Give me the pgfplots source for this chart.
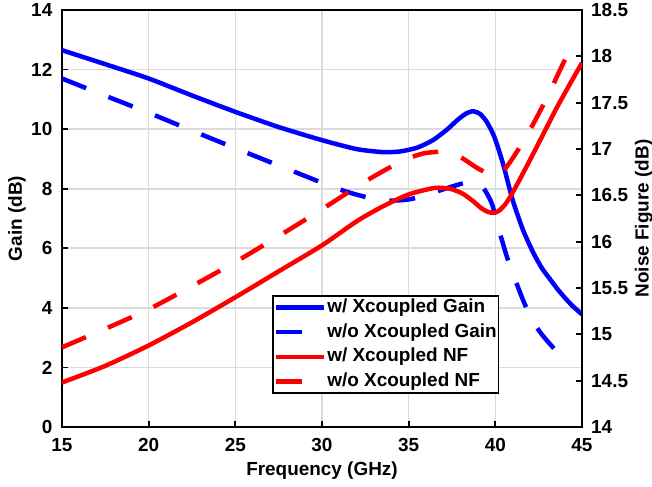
\documentclass[border=0pt]{standalone}
\usepackage{fontspec}
\setmainfont{Liberation Sans}
\usepackage{pgfplots}
\pgfplotsset{compat=1.18}
\definecolor{gridgray}{gray}{0.86}
\tikzset{mydash/.style={dash pattern=on 26bp off 24bp}}
\begin{document}
\begin{tikzpicture}
\pgfplotsset{
 every axis/.append style={
  scale only axis, width=520bp, height=417bp, at={(0,0)}, anchor=south west,
  xmin=15, xmax=45,
  font=\fontsize{19}{22}\selectfont\bfseries,
  /pgf/number format/assume math mode=true,
  tick style={black, line width=1.8bp},
  major tick length=6bp,
  axis line style={line width=2.2bp},
  tick align=inside,
  xticklabel style={inner sep=0.5bp, yshift=-11bp},
 },
}
\begin{axis}[
  ymin=0, ymax=14, ytick={0,2,...,14}, xtick={15,20,...,45},
  grid=major, grid style={gridgray, line width=1.6bp},
  tick pos=left,
  yticklabel style={inner sep=0.5bp, xshift=-9bp},
  xlabel={Frequency (GHz)}, ylabel={Gain (dB)},
  xlabel style={at={(axis description cs:0.5,-0.105)}, anchor=center},
  ylabel style={at={(axis description cs:-0.0865,0.5)}, anchor=center, rotate=0},
]
\addplot[blue, line width=4.5bp, smooth, tension=0.4] coordinates {
(15,12.65) (17.5,12.18) (20,11.7) (22.5,11.13) (25,10.58) (27.5,10.07) (30,9.63)
(32,9.33) (33.5,9.23) (34.5,9.25) (35.5,9.38) (36.4,9.63) (37.2,9.98) (37.8,10.3) (38.3,10.52)
(38.7,10.6) (39.1,10.52) (39.5,10.25) (39.9,9.8) (40.2,9.3) (40.5,8.72) (41.0,7.62)
(41.6,6.61) (42.2,5.84) (42.7,5.32) (43.2,4.93) (43.6,4.62) (44.1,4.28) (44.5,4.04) (45,3.78)
};
\addplot[blue, line width=4.5bp, mydash, smooth, tension=0.4] coordinates {
(15,11.7) (17.5,11.12) (20,10.55) (22.5,9.95) (25,9.36) (27.5,8.78) (30,8.2)
(31,7.98) (32,7.8) (33,7.66) (34,7.6) (35,7.64) (36,7.78) (37,7.98)
(38,8.16) (38.6,8.24) (39.0,8.2) (39.4,7.95) (39.8,7.5) (40.1,6.85) (40.6,5.84) (41.0,5.17)
(41.6,4.26) (42.1,3.62) (42.6,3.17) (43.1,2.82) (43.6,2.5) (44.1,2.25)
};
\end{axis}
\begin{axis}[
  ymin=14, ymax=18.5, ytick={14,14.5,...,18.5},
  axis y line*=right, axis x line=none,
  yticklabel style={inner sep=0.5bp, xshift=8.5bp},
  ylabel={Noise Figure (dB)},
  ylabel style={at={(axis description cs:1.119,0.5)}, anchor=center, rotate=0},
  legend style={at={(0.404,0.3165)}, anchor=north west, draw=black, line width=1.5bp,
    fill=white, font=\fontsize{19}{22}\selectfont\bfseries, inner xsep=1bp, inner ysep=1.5bp,
    row sep=4.8bp, nodes={inner sep=1bp, text height=14bp, text depth=4bp}},
  legend cell align=left,
  legend image code/.code={\draw[#1] (0bp,0bp) -- (48bp,0bp);},
]
\addlegendimage{blue, line width=4.5bp}
\addlegendentry{w/ Xcoupled Gain}
\addlegendimage{blue, line width=4.5bp, mydash}
\addlegendentry{w/o Xcoupled Gain}
\addplot[red, line width=4.5bp, smooth, tension=0.4] coordinates {
(15,14.48) (17.5,14.66) (20,14.88) (22.5,15.13) (25,15.40) (27.5,15.68) (30,15.96)
(32,16.22) (33.5,16.38) (35,16.51) (36.5,16.58) (37.4,16.57)
(38.1,16.52) (38.7,16.44) (39.2,16.36) (39.6,16.32) (39.95,16.31) (40.25,16.34) (40.6,16.41)
(41.0,16.53) (41.8,16.81) (42.6,17.10) (43.5,17.43) (44.3,17.7) (45,17.93)
};
\addlegendentry{w/ Xcoupled NF}
\addplot[red, line width=4.5bp, mydash, smooth, tension=0.4] coordinates {
(15,14.86) (17.5,15.06) (20,15.27) (22.5,15.52) (25,15.78) (27.5,16.06) (30,16.35)
(32.5,16.65) (34.5,16.86) (35.8,16.95) (37,16.97) (38,16.91) (39,16.79) (39.9,16.71)
(40.4,16.75) (41.0,16.9) (41.8,17.14) (42.5,17.38) (43.2,17.64) (43.8,17.88) (44.45,18.13)
};
\addlegendentry{w/o Xcoupled NF}
\end{axis}
\pgfresetboundingbox
\useasboundingbox (-62bp,-60bp) rectangle (590bp,427bp);
\end{tikzpicture}
\end{document}
